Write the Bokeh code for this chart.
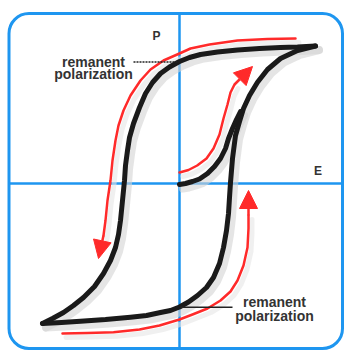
import numpy as np
from bokeh.plotting import figure
from bokeh.models import ColumnDataSource, Arrow, NormalHead, BoxAnnotation, Range1d
from bokeh.core.properties import value
from bokeh.embed import file_html
from bokeh.resources import INLINE

# ---- data (E = field, P = polarization) ----
upper_E = [1.36, 1.18, 1.01, 0.80, 0.58, 0.38, 0.21, 0.10, 0.00, -0.10, -0.19, -0.27, -0.34, -0.40,
           -0.46, -0.50, -0.52, -0.54, -0.55, -0.57, -0.59, -0.61, -0.64, -0.69, -0.76, -0.85, -0.96,
           -1.06, -1.16, -1.27, -1.37]
upper_P = [1.375, 1.365, 1.36, 1.35, 1.335, 1.315, 1.29, 1.26, 1.22, 1.165, 1.10, 1.01, 0.90, 0.76,
           0.60, 0.46, 0.33, 0.18, 0.03, -0.17, -0.37, -0.51, -0.64, -0.77, -0.90, -1.03, -1.14,
           -1.22, -1.29, -1.35, -1.40]

lower_E = [-1.37, -1.18, -0.99, -0.74, -0.49, -0.33, -0.19, -0.09, 0.00, 0.09, 0.18, 0.27, 0.34,
           0.40, 0.44, 0.47, 0.49, 0.50, 0.51, 0.52, 0.53, 0.56, 0.60, 0.64, 0.70, 0.78, 0.88, 1.01,
           1.18, 1.36]
lower_P = [-1.40, -1.39, -1.377, -1.36, -1.337, -1.32, -1.29, -1.27, -1.235, -1.185, -1.12, -1.04,
           -0.94, -0.80, -0.64, -0.47, -0.30, -0.14, 0.01, 0.13, 0.25, 0.48, 0.62, 0.75, 0.88, 1.013,
           1.14, 1.25, 1.33, 1.375]

initial_E = [0.00, 0.06, 0.13, 0.20, 0.28, 0.35, 0.41, 0.46, 0.49, 0.53, 0.57, 0.61]
initial_P = [-0.01, 0.00, 0.02, 0.045, 0.10, 0.17, 0.25, 0.35, 0.45, 0.55, 0.64, 0.72]

red_down_E = [1.16, 0.88, 0.58, 0.30, 0.11, 0.00, -0.16, -0.29, -0.39, -0.49, -0.56, -0.61, -0.64,
              -0.67, -0.69, -0.72, -0.74, -0.76]
red_down_P = [1.45, 1.445, 1.43, 1.39, 1.35, 1.30, 1.23, 1.14, 1.03, 0.88, 0.73, 0.58, 0.43, 0.23,
              0.03, -0.17, -0.37, -0.52]

red_up_E = [-1.17, -0.92, -0.66, -0.40, -0.20, 0.00, 0.13, 0.28, 0.41, 0.51, 0.58, 0.64, 0.68,
            0.69, 0.69]
red_up_P = [-1.50, -1.495, -1.487, -1.46, -1.42, -1.36, -1.31, -1.25, -1.17, -1.08, -0.97, -0.82,
            -0.64, -0.45, -0.32]

red_init_E = [0.00, 0.09, 0.177, 0.27, 0.34, 0.40, 0.44, 0.48, 0.51, 0.55]
red_init_P = [0.11, 0.135, 0.18, 0.25, 0.35, 0.49, 0.65, 0.79, 0.91, 0.99]

# arrow heads: start (end of red line) -> tip
arrow_x0 = [-0.76, 0.69, 0.55]
arrow_y0 = [-0.52, -0.32, 0.99]
arrow_x1 = [-0.81, 0.69, 0.73]
arrow_y1 = [-0.75, -0.07, 1.17]

label_text = ["P", "E"]
label_x = [-0.23, 1.385]
label_y = [1.48, 0.13]

note_text = ["remanent", "polarization", "remanent", "polarization"]
note_x = [-0.86, -0.86, 0.95, 0.95]
note_y = [1.22, 1.10, -1.18, -1.32]

leader_x0 = [-0.46, 0.01]
leader_x1 = [0.00, 0.53]
leader_y = [1.215, -1.237]

frame_left, frame_right, frame_top, frame_bottom = -1.705, 1.63, 1.70, -1.65

BLUE = "#1e96f0"
RED = "#ff2a2a"
BLACK = "#1a1a1a"

p = figure(width=344, height=351, output_backend="svg", toolbar_location=None,
           x_range=Range1d(-1.79, 1.65), y_range=Range1d(-1.68, 1.83),
           x_axis_type=None, y_axis_type=None, min_border=0)
p.grid.visible = False
p.outline_line_color = None
p.background_fill_color = "white"

# axes lines
p.segment(x0=[0, frame_left], y0=[frame_bottom, 0], x1=[0, frame_right], y1=[frame_top, 0],
          line_color=BLUE, line_width=2.5)

# shadows
dx, dy = 0.035, -0.04
for xs, ys in [(upper_E, upper_P), (lower_E, lower_P), (initial_E, initial_P)]:
    p.line(np.array(xs) + dx, np.array(ys) + dy, line_color="#d4d4d4", line_width=8,
           line_alpha=0.6, line_join="round", line_cap="round")
for xs, ys in [(red_down_E, red_down_P), (red_up_E, red_up_P), (red_init_E, red_init_P)]:
    p.line(np.array(xs) + dx, np.array(ys) + dy, line_color="#e6e6e6", line_width=5,
           line_alpha=0.6, line_join="round", line_cap="round")

# black loop
for xs, ys in [(upper_E, upper_P), (lower_E, lower_P), (initial_E, initial_P)]:
    p.line(xs, ys, line_color=BLACK, line_width=5, line_join="round", line_cap="round")

# red arrows
for xs, ys in [(red_down_E, red_down_P), (red_up_E, red_up_P), (red_init_E, red_init_P)]:
    p.line(xs, ys, line_color=RED, line_width=2.5, line_join="round", line_cap="round")

asrc = ColumnDataSource(dict(x0=arrow_x0, y0=arrow_y0, x1=arrow_x1, y1=arrow_y1))
p.add_layout(Arrow(source=asrc, x_start="x0", y_start="y0", x_end="x1", y_end="y1",
                   line_color=RED, line_width=2.5,
                   end=NormalHead(size=18, fill_color=RED, line_color=RED)))

# leader lines
p.segment(x0=leader_x0[:1], y0=leader_y[:1], x1=leader_x1[:1], y1=leader_y[:1],
          line_color="#222222", line_width=1.5, line_dash="2 1")
p.segment(x0=leader_x0[1:], y0=leader_y[1:], x1=leader_x1[1:], y1=leader_y[1:],
          line_color="#222222", line_width=1.5)

# labels
p.text(x=label_x, y=label_y, text=label_text, text_font=value("Liberation Sans"),
       text_font_style="bold", text_font_size="12px", text_color="#333333",
       text_align="center", text_baseline="middle")
p.text(x=note_x, y=note_y, text=note_text, text_font=value("Liberation Sans"),
       text_font_style="bold", text_font_size="14px", text_color="#333333",
       text_align="center", text_baseline="middle")

# rounded frame
p.add_layout(BoxAnnotation(left=frame_left, right=frame_right, top=frame_top, bottom=frame_bottom,
                           fill_alpha=0, line_color=BLUE, line_alpha=1.0, line_width=3,
                           border_radius=20))

open("out.html", "w").write(file_html(p, INLINE))
